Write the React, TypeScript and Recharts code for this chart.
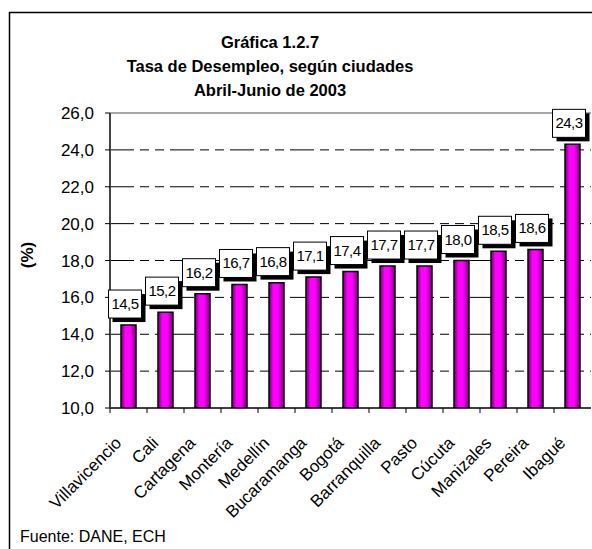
import React from 'react';
import { BarChart, Bar, XAxis, YAxis, CartesianGrid, LabelList, ReferenceLine } from 'recharts';

const cities = ['Villavicencio', 'Cali', 'Cartagena', 'Montería', 'Medellín', 'Bucaramanga', 'Bogotá', 'Barranquilla', 'Pasto', 'Cúcuta', 'Manizales', 'Pereira', 'Ibagué'];
const rates = [14.5, 15.2, 16.2, 16.7, 16.8, 17.1, 17.4, 17.7, 17.7, 18.0, 18.5, 18.6, 24.3];
const yTicks = [10, 12, 14, 16, 18, 20, 22, 24, 26];
const gridValues = [12, 14, 16, 18, 20, 22, 24];
const titleLines = ['Gráfica 1.2.7', 'Tasa de Desempleo, según ciudades', 'Abril-Junio de 2003'];
const yLabel = '(%)';
const source = 'Fuente: DANE, ECH';

const data = cities.map((c, i) => ({ city: c, rate: rates[i] }));

const FONT = '"Liberation Sans", Arial, Helvetica, sans-serif';
const fmt = (v: number) => Number(v).toFixed(1).replace('.', ',');

const ValueBox = (props: any) => {
  const { x, y, width, value } = props;
  const cx = Number(x) + Number(width) / 2;
  const bw = 33;
  const bh = 28;
  const bx = cx - 20;
  const by = Number(y) - 35;
  return (
    <g>
      <rect x={bx + 4} y={by + 4} width={bw} height={bh} fill="#000" />
      <rect x={bx} y={by} width={bw} height={bh} fill="#fff" stroke="#000" strokeWidth={1} />
      <text x={bx + bw / 2} y={by + bh / 2 + 5} textAnchor="middle" fontSize={15} fontFamily={FONT} letterSpacing={-0.6} fill="#000">
        {fmt(value)}
      </text>
    </g>
  );
};

const CityTick = (props: any) => {
  const { x, y, payload } = props;
  const half = payload && payload.offset ? payload.offset : 18.5;
  const tx = x - 6;
  const ty = y + 36;
  return (
    <g>
      <line x1={x - half} y1={y} x2={x - half} y2={y + 5} stroke="#000" strokeWidth={1} />
      <text x={tx} y={ty} transform={`rotate(-45 ${tx} ${ty})`} textAnchor="end" fontSize={17} fontFamily={FONT} fill="#000">
        {payload.value}
      </text>
    </g>
  );
};

export default function App() {
  return (
    <div style={{ position: 'absolute', left: 0, top: 0, width: 592, height: 549, background: '#fff', overflow: 'hidden' }}>
      <BarChart width={592} height={549} data={data} margin={{ top: 113, right: 1, bottom: 0, left: 0 }} barCategoryGap={0}>
        <defs>
          <linearGradient id="barGrad" x1="0" y1="0" x2="1" y2="0">
            <stop offset="0" stopColor="#6a006a" />
            <stop offset="0.3" stopColor="#ff00ff" />
            <stop offset="0.6" stopColor="#ff00ff" />
            <stop offset="1" stopColor="#7a007a" />
          </linearGradient>
        </defs>
        <CartesianGrid vertical={false} horizontalValues={gridValues} stroke="#000" strokeDasharray="24 6 9 6 9 6" />
        <ReferenceLine y={26} stroke="#8a8a8a" strokeWidth={1.5} />
        <XAxis
          dataKey="city"
          interval={0}
          height={141}
          tickSize={0}
          tickMargin={0}
          tickLine={false}
          axisLine={{ stroke: '#000', strokeWidth: 1.5 }}
          tick={<CityTick />}
        />
        <YAxis
          width={110}
          domain={[10, 26]}
          ticks={yTicks}
          interval={0}
          allowDataOverflow
          tickFormatter={fmt}
          tickSize={5}
          tickMargin={11}
          axisLine={{ stroke: '#444', strokeWidth: 2 }}
          tickLine={{ stroke: '#000' }}
          tick={{ fontSize: 17, fill: '#000', fontFamily: FONT }}
        />
        <Bar dataKey="rate" barSize={15} fill="url(#barGrad)" stroke="#000" strokeWidth={1.5} isAnimationActive={false}>
          <LabelList dataKey="rate" content={<ValueBox />} />
        </Bar>
      </BarChart>
      <svg width={592} height={549} style={{ position: 'absolute', left: 0, top: 0, pointerEvents: 'none' }}>
        <line x1={9.5} y1={12} x2={9.5} y2={549} stroke="#000" strokeWidth={1.5} />
        <line x1={9} y1={12.5} x2={592} y2={12.5} stroke="#000" strokeWidth={1.5} />
        {titleLines.map((t, i) => (
          <text key={i} x={270} y={48 + i * 24} textAnchor="middle" fontSize={16.5} fontWeight="bold" fontFamily={FONT} fill="#000">
            {t}
          </text>
        ))}
        <text x={33} y={255} transform="rotate(-90 33 255)" textAnchor="middle" fontSize={17} fontWeight="bold" fontFamily={FONT} fill="#000">
          {yLabel}
        </text>
        <text x={20} y={542} fontSize={16} fontFamily={FONT} fill="#000">
          {source}
        </text>
      </svg>
    </div>
  );
}
